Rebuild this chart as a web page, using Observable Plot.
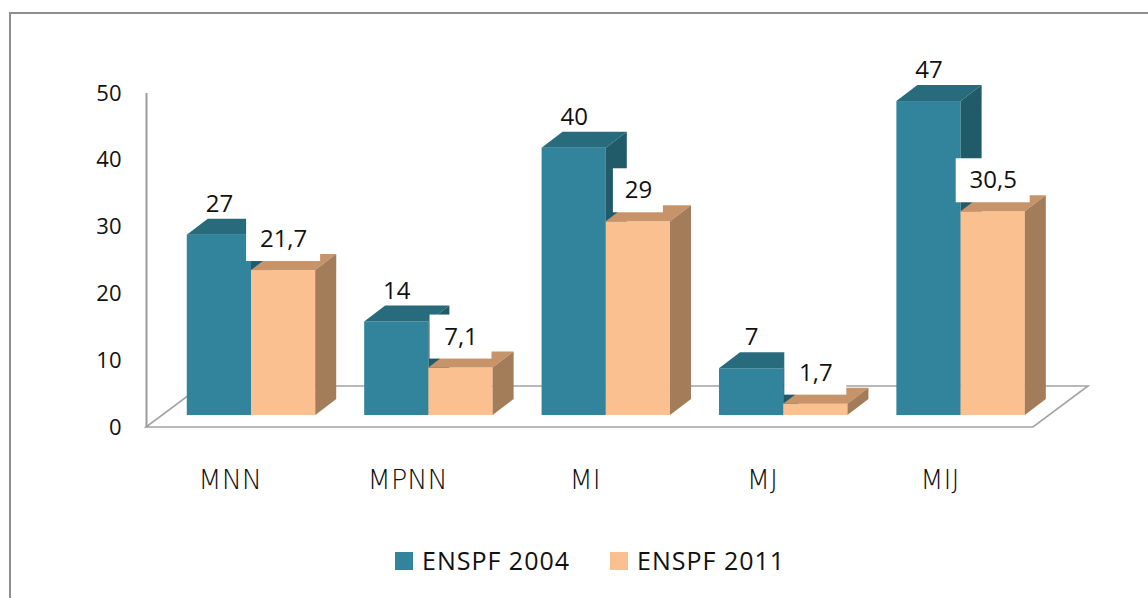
<!DOCTYPE html>
<html>
<head>
<meta charset="utf-8">
<script src="https://cdn.jsdelivr.net/npm/d3@7"></script>
<script src="https://cdn.jsdelivr.net/npm/@observablehq/plot@0.6"></script>
<style>
  html, body { margin: 0; padding: 0; background: #fff; }
  body { width: 1148px; height: 598px; overflow: hidden; position: relative; font-family: 'Open Sans', sans-serif; }
  #frame { position: absolute; left: 9px; top: 12px; width: 1300px; height: 800px; border-left: 2px solid #8e8e8e; border-top: 2px solid #8e8e8e; }
  #chart { position: absolute; left: 0; top: 0; }
  #legend { position: absolute; top: 543px; left: 395px; display: flex; align-items: center; gap: 40px; font-size: 25px; letter-spacing: 1px; color: #111; }
  .item { display: flex; align-items: center; gap: 9px; }
  .sw { width: 18px; height: 18px; display: inline-block; margin-top: 2px; }
  .cat text { font-family: 'DejaVu Sans', sans-serif; font-stretch: condensed; font-weight: 300; }
</style>
</head>
<body>
<div id="frame"></div>
<div id="chart"></div>
<div id="legend"></div>
<script>
// ---- data ----
const categories = ["MNN", "MPNN", "MI", "MJ", "MIJ"];
const enspf2004 = [27, 14, 40, 7, 47];
const enspf2011 = [21.7, 7.1, 29, 1.7, 30.5];
const seriesNames = ["ENSPF 2004", "ENSPF 2011"];
const yTicks = [0, 10, 20, 30, 40, 50];

// ---- styles ----
const frontColors = ["#31849b", "#fac090"];
const topColors = ["#286b7d", "#c79369"];
const sideColors = ["#215a69", "#a37c5a"];
const BAR = 0.362;            // bar width as fraction of category step
const OFF = [16.3, -12];      // bar plane offset from front plane (px)
const DEPTH = [21, -16];      // bar depth (px)
const FLOOR = [55, -41];      // floor depth (px)

const rows = categories.flatMap((c, i) => [
  {cat: c, i, s: 0, v: enspf2004[i]},
  {cat: c, i, s: 1, v: enspf2011[i]}
]);
const fmt = v => String(v).replace(".", ",");
const x1Of = d => d.i + (d.s ? 0 : -BAR);
const x2Of = d => d.i + (d.s ? BAR : 0);

function floorMark(index, {x, y}) {
  const x0 = x(-0.5), x1 = x(4.5), y0 = y(0);
  const pts = [[x0, y0], [x1, y0], [x1 + FLOOR[0], y0 + FLOOR[1]], [x0 + FLOOR[0], y0 + FLOOR[1]]];
  const g = d3.create("svg:g");
  g.append("polygon").attr("points", pts.map(p => p.join(",")).join(" "))
    .attr("fill", "#fff").attr("stroke", "#a3a3a3").attr("stroke-width", 1.6);
  return g.node();
}

function facesMark(s) {
  const data = rows.filter(r => r.s === s);
  return (index, {x, y}) => {
    const g = d3.create("svg:g");
    for (const d of data) {
      const xl = x(x1Of(d)) + OFF[0], xr = x(x2Of(d)) + OFF[0];
      const yt = y(d.v) + OFF[1], yb = y(0) + OFF[1];
      const top = [[xl, yt], [xr, yt], [xr + DEPTH[0], yt + DEPTH[1]], [xl + DEPTH[0], yt + DEPTH[1]]];
      const side = [[xr, yt], [xr + DEPTH[0], yt + DEPTH[1]], [xr + DEPTH[0], yb + DEPTH[1]], [xr, yb]];
      g.append("polygon").attr("points", top.map(p => p.join(",")).join(" ")).attr("fill", topColors[s]);
      g.append("polygon").attr("points", side.map(p => p.join(",")).join(" ")).attr("fill", sideColors[s]);
    }
    return g.node();
  };
}

function labelBoxes(index, {x, y}) {
  const g = d3.create("svg:g");
  for (const d of rows.filter(r => r.s === 1)) {
    const cx = x((x1Of(d) + x2Of(d)) / 2) + OFF[0];
    const cy = y(d.v) + OFF[1] - 31;
    const w = 12 * fmt(d.v).length + 26;
    g.append("rect").attr("x", cx - w / 2).attr("y", cy - 22).attr("width", w).attr("height", 44).attr("fill", "#fff");
  }
  return g.node();
}

const barMarks = [0, 1].flatMap(s => [
  Plot.rect(rows.filter(r => r.s === s), {
    x1: x1Of, x2: x2Of, y1: 0, y2: "v",
    fill: frontColors[s], dx: OFF[0], dy: OFF[1]
  }),
  facesMark(s)
]);

const chart = Plot.plot({
  width: 1148,
  height: 520,
  marginLeft: 146,
  marginRight: 115,
  marginTop: 93,
  marginBottom: 93,
  x: {domain: [-0.5, 4.5], axis: null, label: null},
  y: {domain: [0, 50], axis: null, label: null},
  style: {fontFamily: "'Open Sans', sans-serif", background: "transparent", overflow: "visible", color: "#111"},
  marks: [
    floorMark,
    Plot.ruleX([-0.5], {y1: 0, y2: 50, stroke: "#9b9b9b", strokeWidth: 2}),
    Plot.axisY(yTicks, {tickSize: 0, tickPadding: 25, fontSize: 22, fill: "#111", label: null}),
    ...barMarks,
    labelBoxes,
    Plot.text(rows, {
      x: d => (x1Of(d) + x2Of(d)) / 2, y: "v", text: d => fmt(d.v),
      dx: OFF[0], dy: OFF[1] - 31, fontSize: 24, fill: "#111", letterSpacing: 1
    }),
    Plot.text(categories, {
      x: (d, i) => i, y: () => 0, text: d => d,
      dx: -5, dy: 53, fontSize: 27, fill: "#111", className: "cat"
    })
  ]
});
document.getElementById("chart").appendChild(chart);

const legend = document.getElementById("legend");
seriesNames.forEach((name, s) => {
  const item = document.createElement("div");
  item.className = "item";
  const sw = document.createElement("span");
  sw.className = "sw";
  sw.style.background = frontColors[s];
  const t = document.createElement("span");
  t.textContent = name;
  item.appendChild(sw);
  item.appendChild(t);
  legend.appendChild(item);
});
</script>
</body>
</html>
